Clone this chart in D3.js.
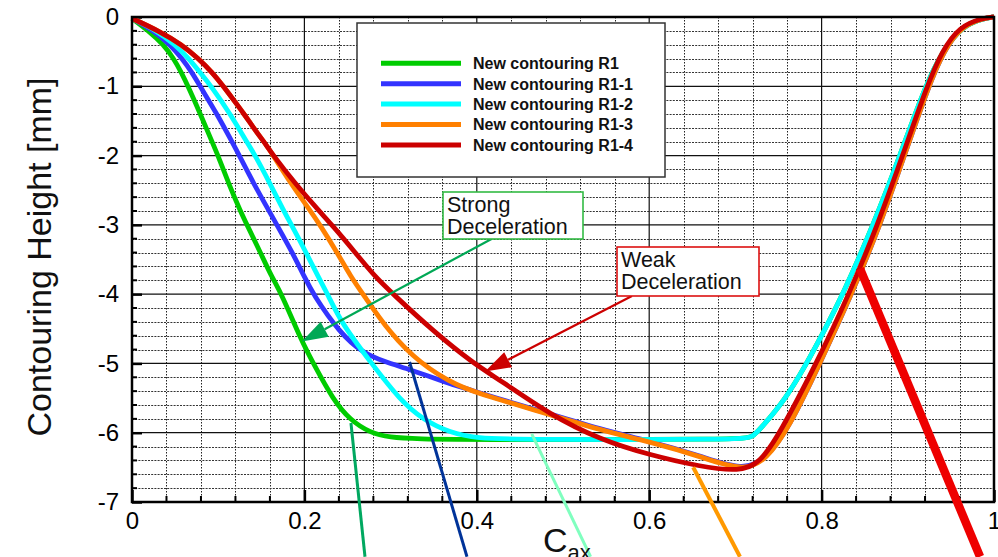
<!DOCTYPE html>
<html><head><meta charset="utf-8">
<script src="https://cdn.jsdelivr.net/npm/d3@7"></script>
<style>
body{margin:0;background:#fff;overflow:hidden}
svg{display:block;font-family:"Liberation Sans",Arial,Helvetica,sans-serif}
</style>
</head><body>
<svg id="c" width="998" height="557"></svg>
<script>
// ---------------- data ----------------
const seriesNames = ["New contouring R1","New contouring R1-1","New contouring R1-2","New contouring R1-3","New contouring R1-4"];

const r1 = [[0,-0.02],[0.0193,-0.2],[0.0367,-0.4],[0.0483,-0.6],[0.0572,-0.8],[0.065,-1],[0.0793,-1.4],[0.0928,-1.8],[0.0998,-2],[0.112,-2.4],[0.1257,-2.8],[0.1334,-3],[0.149,-3.4],[0.162,-3.75],[0.1737,-4],[0.197,-4.685],[0.2104,-5],[0.2336,-5.53],[0.253,-5.815],[0.276,-6.0],[0.299,-6.07],[0.33,-6.09],[0.4,-6.1],[0.709,-6.1],[0.72,-6.06],[0.7285,-5.95],[0.7575,-5.53],[0.7827,-5],[0.8,-4.6],[0.825,-4],[0.86,-3],[0.891,-2],[0.92,-1],[0.941,-0.48],[0.962,-0.14],[0.988,-0.02],[1,0]];

const r1_1 = [[0,-0.02],[0.025,-0.2],[0.0445,-0.4],[0.058,-0.6],[0.0696,-0.8],[0.079,-1],[0.0986,-1.4],[0.116,-1.8],[0.1245,-2],[0.141,-2.4],[0.159,-2.8],[0.168,-3],[0.186,-3.4],[0.200,-3.75],[0.210,-4],[0.241,-4.56],[0.268,-4.85],[0.2916,-4.97],[0.3225,-5.09],[0.361,-5.26],[0.392,-5.38],[0.415,-5.47],[0.485,-5.73],[0.543,-5.95],[0.6,-6.12],[0.659,-6.33],[0.709,-6.55],[0.736,-6.38],[0.763,-5.91],[0.798,-5],[0.835,-4],[0.868,-3],[0.896,-2],[0.924,-1],[0.942,-0.48],[0.962,-0.14],[0.987,-0.02],[1,0]];

const r1_2 = [[0,-0.02],[0.029,-0.2],[0.050,-0.4],[0.066,-0.6],[0.079,-0.8],[0.092,-1.0],[0.114,-1.4],[0.133,-1.8],[0.143,-2],[0.160,-2.4],[0.176,-2.8],[0.185,-3],[0.202,-3.4],[0.216,-3.75],[0.227,-4],[0.243,-4.42],[0.278,-5],[0.311,-5.53],[0.338,-5.815],[0.369,-6.0],[0.4,-6.08],[0.45,-6.1],[0.709,-6.1],[0.72,-6.06],[0.7285,-5.95],[0.7575,-5.53],[0.7827,-5],[0.8,-4.6],[0.825,-4],[0.86,-3],[0.891,-2],[0.92,-1],[0.941,-0.48],[0.962,-0.14],[0.988,-0.02],[1,0]];

const r1_3 = [[0,-0.02],[0.031,-0.2],[0.058,-0.4],[0.077,-0.6],[0.093,-0.8],[0.106,-1.0],[0.118,-1.2],[0.130,-1.4],[0.141,-1.6],[0.153,-1.8],[0.164,-2.0],[0.184,-2.4],[0.207,-2.8],[0.218,-3],[0.238,-3.4],[0.254,-3.75],[0.268,-4],[0.299,-4.56],[0.334,-5],[0.377,-5.33],[0.415,-5.48],[0.485,-5.74],[0.543,-5.96],[0.6,-6.13],[0.659,-6.34],[0.709,-6.56],[0.736,-6.39],[0.763,-5.91],[0.798,-5],[0.835,-4],[0.868,-3],[0.896,-2],[0.924,-1],[0.942,-0.48],[0.962,-0.14],[0.987,-0.02],[1,0]];

const r1_4 = [[0,-0.02],[0.031,-0.2],[0.058,-0.4],[0.077,-0.6],[0.093,-0.8],[0.106,-1.0],[0.118,-1.2],[0.130,-1.4],[0.141,-1.6],[0.153,-1.8],[0.164,-2.0],[0.189,-2.4],[0.217,-2.8],[0.232,-3.0],[0.259,-3.4],[0.282,-3.75],[0.303,-4],[0.349,-4.53],[0.396,-5],[0.427,-5.24],[0.485,-5.74],[0.543,-6.1],[0.6,-6.32],[0.659,-6.49],[0.705,-6.56],[0.7285,-6.44],[0.752,-6.0],[0.794,-5],[0.832,-4],[0.865,-3],[0.894,-2],[0.922,-1],[0.94,-0.48],[0.96,-0.14],[0.985,-0.02],[1,0]];

const xTicks = [0,0.2,0.4,0.6,0.8,1];
const xTickLabels = ["0","0.2","0.4","0.6","0.8","1"];
const yTicks = [0,-1,-2,-3,-4,-5,-6,-7];
const yTickLabels = ["0","-1","-2","-3","-4","-5","-6","-7"];

// annotation arrows: [from, to] in data coordinates
const strongArrow = [[0.417,-3.203],[0.197,-4.685]];
const weakArrow = [[0.580,-4.026],[0.4095,-5.118]];
const strongLabel = ["Strong","Deceleration"];
const weakLabel = ["Weak","Deceleration"];

// leader lines leaving the plot (start on a curve, end below the frame)
const leaders = [
  [[0.254,-5.86],[0.2703,-7.79]],
  [[0.322,-4.98],[0.3886,-7.79]],
  [[0.4637,-6.017],[0.532,-7.79]],
  [[0.651,-6.498],[0.7053,-7.79]],
  [[0.8445,-3.632],[0.9838,-7.79]]
];

// ---------------- styles ----------------
const seriesColors = ["#00cc00","#3333ff","#00ffff","#ff8000","#cc0000"];
const leaderColors = ["#00a860","#003399","#80ffbf","#ff9900","#ee0000"];
const leaderWidths = [3,3,3,4,8.5];

// ---------------- drawing ----------------
const svg = d3.select("#c");
const L = 132, R = 994, T = 17, B = 502;
const x = d3.scaleLinear().domain([0,1]).range([L,R]);
const y = d3.scaleLinear().domain([-7,0]).range([B,T]);

svg.append("rect").attr("x",L).attr("y",T).attr("width",R-L).attr("height",B-T).attr("fill","#fff");

// minor grid
const grid = svg.append("g");
const xMinor = d3.range(1,25).map(i=>i/25).filter((v,i)=>(i+1)%5!==0);
const yMinor = d3.range(1,35).map(i=>-i/5).filter((v,i)=>(i+1)%5!==0);
grid.selectAll(".vx").data(xMinor).join("line")
  .attr("x1",d=>Math.round(x(d))+0.5).attr("x2",d=>Math.round(x(d))+0.5)
  .attr("y1",T).attr("y2",B)
  .attr("stroke","#222").attr("stroke-width",1).attr("stroke-dasharray","1.5,1.5");
grid.selectAll(".hy").data(yMinor).join("line")
  .attr("y1",d=>Math.round(y(d))+0.5).attr("y2",d=>Math.round(y(d))+0.5)
  .attr("x1",L).attr("x2",R)
  .attr("stroke","#333").attr("stroke-width",1).attr("stroke-dasharray","2,1.2");
// major grid
grid.selectAll(".mx").data(xTicks.slice(1,-1)).join("line")
  .attr("x1",d=>x(d)).attr("x2",d=>x(d)).attr("y1",T).attr("y2",B)
  .attr("stroke","#111").attr("stroke-width",1.2);
grid.selectAll(".my").data(yTicks.slice(1,-1)).join("line")
  .attr("y1",d=>y(d)).attr("y2",d=>y(d)).attr("x1",L).attr("x2",R)
  .attr("stroke","#111").attr("stroke-width",1.2);

// minor ticks on left and bottom
grid.selectAll(".tyl").data(yMinor).join("line")
  .attr("x1",L).attr("x2",L+5).attr("y1",d=>y(d)).attr("y2",d=>y(d))
  .attr("stroke","#000").attr("stroke-width",2);
grid.selectAll(".txb").data(xMinor).join("line")
  .attr("x1",d=>x(d)).attr("x2",d=>x(d)).attr("y1",B).attr("y2",B-6)
  .attr("stroke","#000").attr("stroke-width",2);

// axes (labels + inward major ticks)
const yAxis = d3.axisLeft(y).tickValues(yTicks).tickFormat((d,i)=>yTickLabels[i]).tickSize(-10).tickPadding(13);
const gy = svg.append("g").attr("transform",`translate(${L},0)`).call(yAxis);
const xAxis = d3.axisBottom(x).tickValues(xTicks).tickFormat((d,i)=>xTickLabels[i]).tickSize(-12).tickPadding(10);
const gx = svg.append("g").attr("transform",`translate(0,${B})`).call(xAxis);
[gx,gy].forEach(g=>{
  g.select(".domain").remove();
  g.selectAll(".tick line").attr("stroke","#000").attr("stroke-width",2.5);
  g.selectAll(".tick text").attr("fill","#000").attr("font-size",24).attr("font-family","'Liberation Sans',Arial,sans-serif");
});

// curves
const line = d3.line().x(d=>x(d[0])).y(d=>y(d[1])).curve(d3.curveBasis);
const allSeries = [r1,r1_1,r1_2,r1_3,r1_4];
svg.append("g").selectAll("path").data(allSeries).join("path")
  .attr("d",line).attr("fill","none")
  .attr("stroke",(d,i)=>seriesColors[i]).attr("stroke-width",4.8)
  .attr("stroke-linejoin","round");

// frame
svg.append("rect").attr("x",L).attr("y",T).attr("width",R-L).attr("height",B-T)
  .attr("fill","none").attr("stroke","#000").attr("stroke-width",2.5);

// legend
const lg = svg.append("g");
lg.append("rect").attr("x",357).attr("y",23).attr("width",308).attr("height",154)
  .attr("fill","#fff").attr("stroke","#333").attr("stroke-width",1.5);
seriesNames.forEach((n,i)=>{
  const yy = 63.3 + i*20.4;
  lg.append("line").attr("x1",381).attr("x2",461).attr("y1",yy).attr("y2",yy)
    .attr("stroke",seriesColors[i]).attr("stroke-width",5);
  lg.append("text").attr("x",473).attr("y",yy+5.8).attr("font-size",16).attr("font-weight","bold")
    .attr("fill","#111").text(n);
});

// arrows
function arrow(a, color){
  const x0=x(a[0][0]), y0=y(a[0][1]), x1=x(a[1][0]), y1=y(a[1][1]);
  const dx=x1-x0, dy=y1-y0, len=Math.hypot(dx,dy), ux=dx/len, uy=dy/len;
  const hl=26, hw=8.5;
  const bx=x1-ux*hl, by=y1-uy*hl;
  svg.append("line").attr("x1",x0).attr("y1",y0).attr("x2",bx).attr("y2",by)
    .attr("stroke",color).attr("stroke-width",2.2);
  svg.append("path").attr("d",`M${x1},${y1}L${bx-uy*hw},${by+ux*hw}L${bx+uy*hw},${by-ux*hw}Z`)
    .attr("fill",color);
}
arrow(strongArrow,"#00a855");
arrow(weakArrow,"#cc0000");

// annotation boxes
function noteBox(bx,by,bw,bh,lines,color){
  svg.append("rect").attr("x",bx).attr("y",by).attr("width",bw).attr("height",bh)
    .attr("fill","#fff").attr("stroke",color).attr("stroke-width",1.6);
  const t = svg.append("text").attr("x",bx+4).attr("y",by+20).attr("font-size",21.5).attr("fill","#111");
  lines.forEach((s,i)=>{
    t.append("tspan").attr("x",bx+4).attr("dy",i===0?0:21.6).text(s);
  });
}
noteBox(443,192,140,47,strongLabel,"#33bb44");
noteBox(617,247,142,49,weakLabel,"#dd1111");

// leader lines
svg.append("g").selectAll("line").data(leaders).join("line")
  .attr("x1",d=>x(d[0][0])).attr("y1",d=>y(d[0][1]))
  .attr("x2",d=>x(d[1][0])).attr("y2",d=>y(d[1][1]))
  .attr("stroke",(d,i)=>leaderColors[i]).attr("stroke-width",(d,i)=>leaderWidths[i]);

// axis titles
svg.append("text").attr("transform","translate(51,257) rotate(-90)").attr("text-anchor","middle")
  .attr("font-size",34).attr("fill","#111").text("Contouring Height [mm]");
const xt = svg.append("text").attr("x",543).attr("y",552).attr("font-size",34).attr("fill","#111");
xt.append("tspan").text("C");
xt.append("tspan").attr("dy",8).attr("font-size",22).text("ax");
</script>
</body></html>
